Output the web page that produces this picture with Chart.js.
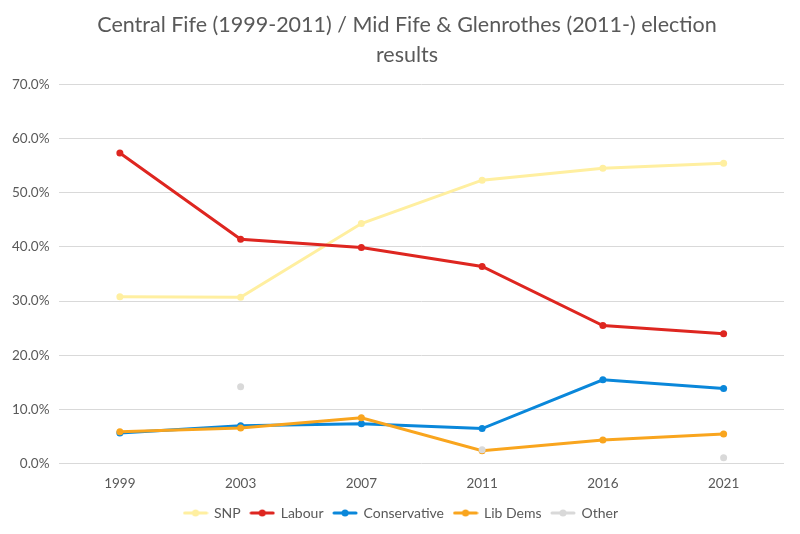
<!DOCTYPE html>
<html><head><meta charset="utf-8">
<script src="https://cdn.jsdelivr.net/npm/chart.js@4/dist/chart.umd.min.js"></script>
<style>html,body{margin:0;padding:0;background:#fff}#w{width:800px;height:534px}</style>
</head><body><div id="w"><canvas id="c" width="800" height="534"></canvas></div>
<script>
const years = ["1999","2003","2007","2011","2016","2021"];
const snp = [30.8, 30.7, 44.3, 52.3, 54.5, 55.4];
const labour = [57.3, 41.4, 39.9, 36.4, 25.5, 24.0];
const conservative = [5.7, 7.0, 7.4, 6.5, 15.5, 13.9];
const libDems = [5.9, 6.6, 8.5, 2.4, 4.4, 5.5];
const other = [null, 14.2, null, 2.6, null, 1.1];
const titleLines = ["Central Fife (1999-2011) / Mid Fife & Glenrothes (2011-) election", "results"];

const FONT = "Lato, 'Open Sans', sans-serif";
function legendIcon(color){
  const c = document.createElement('canvas'); c.width = 26; c.height = 10;
  const g = c.getContext('2d');
  g.strokeStyle = color; g.lineWidth = 3; g.lineCap='round';
  g.beginPath(); g.moveTo(2,5); g.lineTo(24,5); g.stroke();
  g.fillStyle = color; g.beginPath(); g.arc(13,5,3.5,0,Math.PI*2); g.fill();
  return c;
}
function ds(label, data, color, order){
  return {label, data, borderColor: color, backgroundColor: color, borderWidth: 3,
    pointRadius: 3.5, pointHoverRadius: 3.5, pointBorderWidth: 0, pointBackgroundColor: color,
    tension: 0, spanGaps: false, order, pointStyle: 'circle', iconCanvas: legendIcon(color)};
}
const datasets = [
  ds("SNP", snp, "#FFEFA0", 5),
  ds("Labour", labour, "#DE2620", 4),
  ds("Conservative", conservative, "#0A87DA", 3),
  ds("Lib Dems", libDems, "#F9A51E", 2),
  ds("Other", other, "#D9D9D9", 1)
];

const shiftBlocks = {
  id: 'shiftBlocks',
  afterLayout(chart) {
    if (chart.titleBlock) { chart.titleBlock.left += 28; }
    if (chart.legend) { chart.legend.left += 16; }
  }
};

new Chart(document.getElementById('c'), {
  type: 'line',
  data: {labels: years, datasets},
  plugins: [shiftBlocks],
  options: {
    responsive: false, animation: false, devicePixelRatio: 1,
    layout: {padding: {left: 2, right: 16, top: 6, bottom: 4}},
    plugins: {
      title: {display: true, text: titleLines, color: '#595959',
        font: {family: FONT, size: 21.5, weight: 'normal', lineHeight: 1.4}, padding: {top: 4, bottom: 14}},
      legend: {position: 'bottom',
        labels: {color: '#595959', font: {family: FONT, size: 14}, usePointStyle: true, pointStyleWidth: 23, boxHeight: 10, padding: 10,
          sort: (a,b) => a.datasetIndex - b.datasetIndex,
          generateLabels: (chart) => chart.data.datasets.map((d,i) => ({
            text: d.label, datasetIndex: i, pointStyle: d.iconCanvas, fontColor: '#595959',
            strokeStyle: d.borderColor, fillStyle: d.borderColor, lineWidth: 0, hidden: false
          }))
        }},
      tooltip: {enabled: false}
    },
    scales: {
      x: {offset: true, grid: {display: false, drawTicks: false}, border: {display: false},
        afterFit: (s) => { s.height -= 8; },
        ticks: {color: '#595959', font: {family: FONT, size: 13.5}, padding: 12}},
      y: {min: 0, max: 70, grid: {color: '#D9D9D9', lineWidth: 1, drawTicks: false}, border: {display: false},
        ticks: {stepSize: 10, color: '#595959', font: {family: FONT, size: 13.5}, padding: 10,
          callback: v => v.toFixed(1) + '%'}}
    }
  }
});
</script></body></html>
